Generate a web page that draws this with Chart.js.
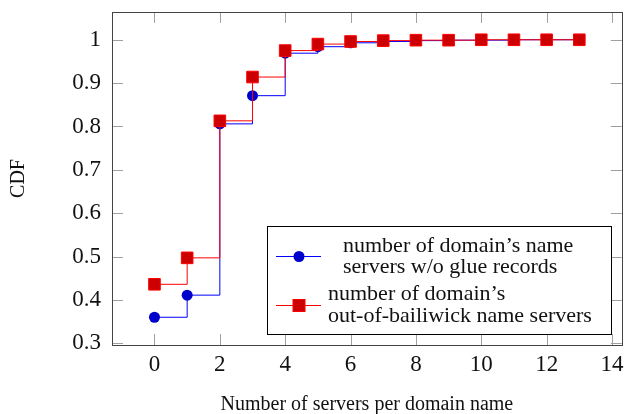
<!DOCTYPE html>
<html>
<head>
<meta charset="utf-8">
<script src="https://cdn.jsdelivr.net/npm/chart.js@4"></script>
<style>
  body { margin: 0; background: #fff; }
</style>
</head>
<body>
<canvas id="cdfChart" width="631" height="414"></canvas>
<script>
// servers per domain name, 0..13
const servers = [0, 1, 2, 3, 4, 5, 6, 7, 8, 9, 10, 11, 12, 13];
const noGlueCdf = [0.36, 0.411, 0.806, 0.871, 0.969, 0.984, 0.993, 0.996, 0.998, 0.999, 0.999, 1, 1, 1];
const outBailiwickCdf = [0.436, 0.497, 0.813, 0.914, 0.975, 0.990, 0.996, 0.998, 0.999, 0.999, 1, 1, 1, 1];

const xTicks = [0, 2, 4, 6, 8, 10, 12, 14];
const yTicks = [0.3, 0.4, 0.5, 0.6, 0.7, 0.8, 0.9, 1];

const noGlueLabel = ['number of domain\u2019s name', 'servers w/o glue records'];
const outBailiwickLabel = ['number of domain\u2019s', 'out-of-bailiwick name servers'];

const serif = "'Liberation Serif', 'DejaVu Serif', serif";

// frame + inward tick marks, like pgfplots
const framePlugin = {
  id: 'frame',
  beforeDatasetsDraw(chart) {
    const { ctx, chartArea: a, scales } = chart;
    ctx.save();
    ctx.strokeStyle = '#a0a0a0';
    ctx.lineWidth = 1;
    ctx.beginPath();
    xTicks.forEach(v => {
      const x = Math.round(scales.x.getPixelForValue(v)) + 0.5;
      ctx.moveTo(x, a.bottom); ctx.lineTo(x, a.bottom - 11);
      ctx.moveTo(x, a.top); ctx.lineTo(x, a.top + 11);
    });
    yTicks.forEach(v => {
      const y = Math.round(scales.y.getPixelForValue(v)) + 0.5;
      ctx.moveTo(a.left, y); ctx.lineTo(a.left + 11, y);
      ctx.moveTo(a.right, y); ctx.lineTo(a.right - 11, y);
    });
    ctx.stroke();
    ctx.strokeStyle = '#444';
    ctx.strokeRect(Math.round(a.left) + 0.5, Math.round(a.top) + 0.5,
      Math.round(a.right - a.left), Math.round(a.bottom - a.top));
    ctx.restore();
  },
  afterDraw(chart) {
    const ctx = chart.ctx;
    ctx.save();
    // legend box
    ctx.fillStyle = '#fff';
    ctx.fillRect(267.5, 226.5, 344, 108);
    ctx.strokeStyle = '#000';
    ctx.lineWidth = 1;
    ctx.strokeRect(267.5, 226.5, 344, 108);

    // entry 1
    ctx.strokeStyle = '#0000ff';
    ctx.beginPath(); ctx.moveTo(276, 256.5); ctx.lineTo(321, 256.5); ctx.stroke();
    ctx.fillStyle = '#0000cc';
    ctx.beginPath(); ctx.arc(299, 256.5, 5.5, 0, Math.PI * 2); ctx.fill();

    // entry 2
    ctx.strokeStyle = '#ff0000';
    ctx.beginPath(); ctx.moveTo(276, 305.5); ctx.lineTo(321, 305.5); ctx.stroke();
    ctx.fillStyle = '#cc0000';
    ctx.fillRect(293, 299.5, 12, 12);
    ctx.strokeRect(293, 299.5, 12, 12);

    ctx.fillStyle = '#111';
    ctx.font = '22px ' + serif;
    ctx.textBaseline = 'middle';
    ctx.textAlign = 'left';
    ctx.fillText(noGlueLabel[0], 343, 246);
    ctx.fillText(noGlueLabel[1], 343, 267);
    ctx.fillText(outBailiwickLabel[0], 328, 294);
    ctx.fillText(outBailiwickLabel[1], 328, 316);
    ctx.restore();
  }
};

function noOverhang(s) {
  s.paddingTop = 0; s.paddingBottom = 0; s.paddingLeft = 0; s.paddingRight = 0;
}

new Chart(document.getElementById('cdfChart').getContext('2d'), {
  type: 'line',
  data: {
    labels: servers,
    datasets: [
      {
        label: noGlueLabel.join(' '),
        data: servers.map((s, i) => ({ x: s, y: noGlueCdf[i] })),
        borderColor: '#0000ff',
        borderWidth: 1,
        stepped: 'before',
        pointStyle: 'circle',
        pointRadius: 5.5,
        pointBackgroundColor: '#0000cc',
        pointBorderColor: '#0000cc',
        pointBorderWidth: 0,
        order: 2
      },
      {
        label: outBailiwickLabel.join(' '),
        data: servers.map((s, i) => ({ x: s, y: outBailiwickCdf[i] })),
        borderColor: '#ff0000',
        borderWidth: 1,
        stepped: 'before',
        pointStyle: 'rect',
        pointRadius: 8.2,
        pointBackgroundColor: '#cc0000',
        pointBorderColor: '#ff0000',
        pointBorderWidth: 1,
        order: 1
      }
    ]
  },
  options: {
    responsive: false,
    animation: false,
    layout: { padding: { top: 12, right: 5, left: 0, bottom: 0 } },
    plugins: { legend: { display: false }, tooltip: { enabled: false } },
    scales: {
      x: {
        type: 'linear',
        min: -1.3,
        max: 14.3,
        afterBuildTicks: s => { s.ticks = xTicks.map(v => ({ value: v })); },
        afterFit: s => { s.height = 69; noOverhang(s); },
        grid: { display: false, drawTicks: false },
        border: { display: false },
        ticks: { color: '#111', padding: 6, font: { family: serif, size: 23 } },
        title: {
          display: true,
          text: 'Number of servers per domain name',
          color: '#111',
          font: { family: serif, size: 20 },
          padding: { top: 0, bottom: -3 }
        }
      },
      y: {
        min: 0.296,
        max: 1.064,
        afterBuildTicks: s => { s.ticks = yTicks.map(v => ({ value: v })); },
        afterFit: s => { s.width = 112; noOverhang(s); },
        grid: { display: false, drawTicks: false },
        border: { display: false },
        ticks: {
          color: '#111',
          padding: 11,
          font: { family: serif, size: 23 },
          callback: v => String(Math.round(v * 10) / 10)
        },
        title: {
          display: true,
          text: 'CDF',
          color: '#111',
          font: { family: serif, size: 20 },
          padding: { top: 7, bottom: 0 }
        }
      }
    }
  },
  plugins: [framePlugin]
});
</script>
</body>
</html>
